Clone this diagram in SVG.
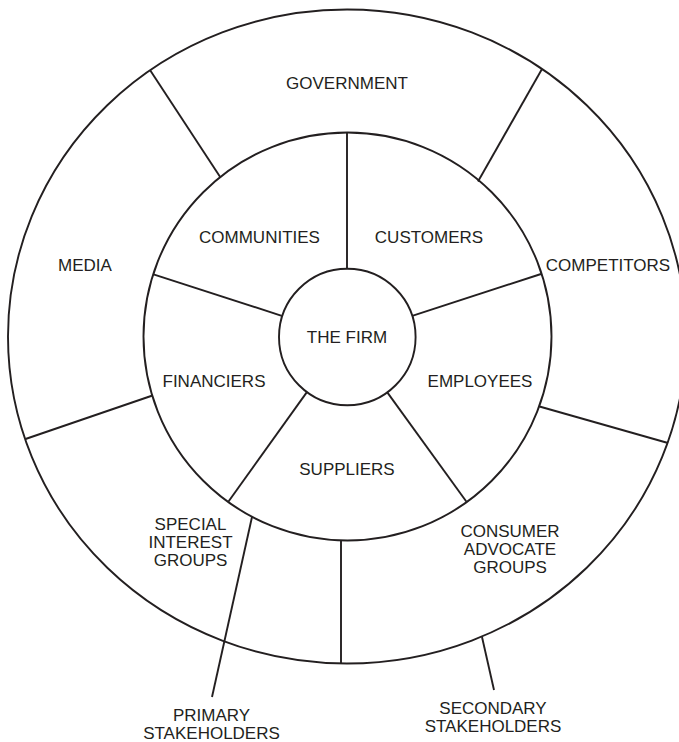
<svg xmlns="http://www.w3.org/2000/svg" width="679" height="742" viewBox="0 0 679 742">
  <style>
    .ring { fill: none; stroke: #231f20; stroke-width: 1.9; }
    .div { stroke: #231f20; stroke-width: 1.9; fill: none; }
    text { font-family: "Liberation Sans", Arial, Helvetica, sans-serif; font-size: 17px; fill: #231f20; text-anchor: middle; }
  </style>
  <rect x="0" y="0" width="679" height="742" fill="#ffffff"/>
  <g id="rings">
    <ellipse class="ring" cx="347" cy="336.5" rx="339" ry="327"/>
    <circle class="ring" cx="347.5" cy="336.5" r="204"/>
  </g>
  <g id="connectors">
    <!-- inner ring dividers -->
    <line class="div" x1="347" y1="268.5" x2="347" y2="132.5"/>
    <line class="div" x1="412.2" y1="315.8" x2="541" y2="274"/>
    <line class="div" x1="387.3" y1="392.4" x2="466.3" y2="501.5"/>
    <line class="div" x1="306.7" y1="392.4" x2="228.5" y2="501.5"/>
    <line class="div" x1="281.8" y1="315.8" x2="153.5" y2="274.3"/>
    <!-- outer ring dividers -->
    <line class="div" x1="220.5" y1="177.5" x2="150" y2="70"/>
    <line class="div" x1="478" y1="181.5" x2="542" y2="69"/>
    <line class="div" x1="152.5" y1="395.5" x2="25.5" y2="439"/>
    <line class="div" x1="539.5" y1="406.5" x2="668" y2="443"/>
    <line class="div" x1="341" y1="540.5" x2="341" y2="663.5"/>
    <!-- pointer lines -->
    <line class="div" x1="252" y1="517" x2="212" y2="697"/>
    <line class="div" x1="482" y1="637" x2="494" y2="690"/>
  </g>
  <g id="the-firm">
    <circle class="ring" cx="347.3" cy="337" r="68.3"/>
    <text x="347" y="342.5">THE FIRM</text>
  </g>
  <g id="customers"><text x="429" y="242.5">CUSTOMERS</text></g>
  <g id="communities"><text x="259.5" y="242.5">COMMUNITIES</text></g>
  <g id="financiers"><text x="214" y="387">FINANCIERS</text></g>
  <g id="employees"><text x="480" y="387">EMPLOYEES</text></g>
  <g id="suppliers"><text x="347" y="474.5">SUPPLIERS</text></g>
  <g id="government"><text x="347" y="89">GOVERNMENT</text></g>
  <g id="media"><text x="85" y="271">MEDIA</text></g>
  <g id="competitors"><text x="608" y="271">COMPETITORS</text></g>
  <g id="special-interest-groups">
    <text x="190.5" y="530">SPECIAL</text>
    <text x="190.5" y="548">INTEREST</text>
    <text x="190.5" y="566">GROUPS</text>
  </g>
  <g id="consumer-advocate-groups">
    <text x="510" y="537">CONSUMER</text>
    <text x="510" y="555">ADVOCATE</text>
    <text x="510" y="573">GROUPS</text>
  </g>
  <g id="primary-stakeholders">
    <text x="211.5" y="721">PRIMARY</text>
    <text x="211.5" y="738.5">STAKEHOLDERS</text>
  </g>
  <g id="secondary-stakeholders">
    <text x="493" y="714">SECONDARY</text>
    <text x="493" y="732">STAKEHOLDERS</text>
  </g>
</svg>
